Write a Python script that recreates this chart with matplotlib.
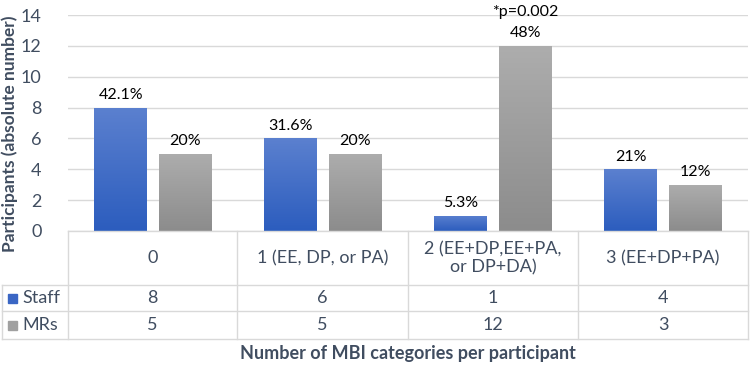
import numpy as np
import matplotlib.pyplot as plt
from matplotlib.colors import LinearSegmentedColormap
from matplotlib.lines import Line2D

plt.rcParams['font.family'] = ['Lato', 'DejaVu Sans']

categories = ['0', '1 (EE, DP, or PA)', '2 (EE+DP,EE+PA,\nor DP+DA)', '3 (EE+DP+PA)']
staff = [8, 6, 1, 4]
mrs = [5, 5, 12, 3]
staff_pct = ['42.1%', '31.6%', '5.3%', '21%']
mrs_pct = ['20%', '20%', '48%', '12%']
series = ['Staff', 'MRs']
pval_text = '*p=0.002'

W, H = 750, 365
txt_col = '#404D60'
grid_col = '#D9D9D9'

fig = plt.figure(figsize=(7.5, 3.65), dpi=100)
x0, x1, y0, y1 = 68, 748, 231, 15   # plot area in pixels
ax = fig.add_axes([x0 / W, 1 - y0 / H, (x1 - x0) / W, (y0 - y1) / H])

blue = LinearSegmentedColormap.from_list('b', ['#2C5DBE', '#5B80CF'])
grey = LinearSegmentedColormap.from_list('g', ['#8C8C8C', '#ADADAD'])
grad = np.linspace(0, 1, 100).reshape(-1, 1)

x = np.arange(len(categories))
bw, off = 0.31, 0.19

def grad_bars(xs, vals, cmap):
    bars = ax.bar(xs, vals, bw, color='none', edgecolor='none', zorder=2)
    for b in bars:
        im = ax.imshow(grad, cmap=cmap, aspect='auto', origin='lower',
                       extent=[b.get_x(), b.get_x() + b.get_width(), 0, b.get_height()],
                       zorder=2)
        im.set_clip_path(b)
    return bars

b1 = grad_bars(x - off, staff, blue)
b2 = grad_bars(x + off, mrs, grey)
for b, t in zip(b1, staff_pct):
    ax.text(b.get_x() + b.get_width() / 2, b.get_height() + 0.35, t,
            ha='center', va='bottom', fontsize=11.5, color='black')
for b, t in zip(b2, mrs_pct):
    ax.text(b.get_x() + b.get_width() / 2, b.get_height() + 0.35, t,
            ha='center', va='bottom', fontsize=11.5, color='black')
i_max = int(np.argmax(mrs))
ax.text(x[i_max] + off, 13.75, pval_text, ha='center', va='bottom',
        fontsize=11.5, color='black', clip_on=False)

ax.set_xlim(-0.5, len(categories) - 0.5)
ax.set_ylim(0, 14)
ax.set_yticks(range(0, 15, 2))
ax.tick_params(axis='y', length=0, labelsize=13, labelcolor=txt_col, pad=19)
ax.set_xticks([])
ax.grid(axis='y', color=grid_col, lw=1, zorder=0)
ax.set_axisbelow(True)
for s in ax.spines.values():
    s.set_visible(False)

# data table below the plot, drawn in pixel positions
def fx(px): return px / W
def fy(py): return 1 - py / H

fig.text(fx(10), fy(134), 'Participants (absolute number)', rotation=90,
         ha='center', va='center', fontsize=12.5, fontweight='bold', color=txt_col)

col_edges = [68, 237, 408, 578, 748]
row_edges = [231, 285, 311, 339]
def hline(py, xa, xb):
    fig.add_artist(Line2D([fx(xa), fx(xb)], [fy(py), fy(py)], color=grid_col, lw=1))
def vline(px, ya, yb):
    fig.add_artist(Line2D([fx(px), fx(px)], [fy(ya), fy(yb)], color=grid_col, lw=1))

hline(231, 68, 748)
for r in row_edges[1:]:
    hline(r, 2, 748)
for c in col_edges:
    vline(c, 231, 339)
vline(2, 285, 339)

for i, cat in enumerate(categories):
    cx = (col_edges[i] + col_edges[i + 1]) / 2
    fig.text(fx(cx), fy(258), cat, ha='center', va='center', fontsize=13,
             color=txt_col, linespacing=1.15)
    fig.text(fx(cx), fy(298), str(staff[i]), ha='center', va='center',
             fontsize=13, color=txt_col)
    fig.text(fx(cx), fy(325), str(mrs[i]), ha='center', va='center',
             fontsize=13, color=txt_col)

for (name, col, py) in [(series[0], '#3A66C4', 298), (series[1], '#A0A0A0', 325)]:
    fig.add_artist(plt.Rectangle((fx(8), fy(py) - 4.5 / H), 9 / W, 9 / H,
                                 color=col, transform=fig.transFigure))
    fig.text(fx(22), fy(py), name, ha='left', va='center', fontsize=13, color=txt_col)

fig.text(fx(408), fy(353), 'Number of MBI categories per participant', ha='center',
         va='center', fontsize=13, fontweight='bold', color=txt_col)

fig.savefig('out.png', dpi=100)
